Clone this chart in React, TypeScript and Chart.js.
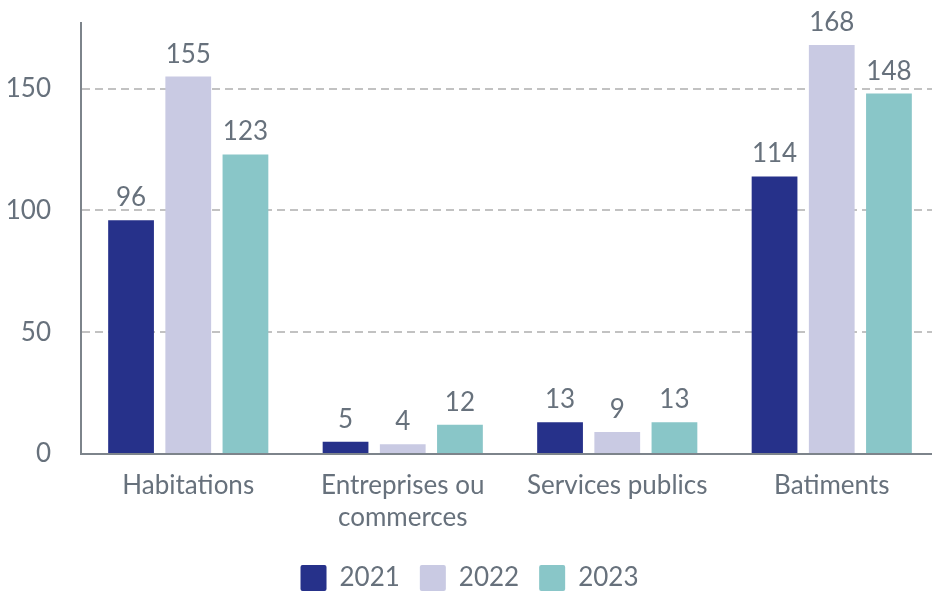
import React, { useEffect, useRef } from "react";
import { Chart, registerables } from "chart.js";

Chart.register(...registerables);

const categories: (string | string[])[] = [
  "Habitations",
  ["Entreprises ou", "commerces"],
  "Services publics",
  "Batiments",
];
const seriesNames = ["2021", "2022", "2023"];
const values2021 = [96, 5, 13, 114];
const values2022 = [155, 4, 9, 168];
const values2023 = [123, 12, 13, 148];
const yTicks = [0, 50, 100, 150];

const colors = ["#26318a", "#c9cae3", "#89c6c8"];
const textColor = "#67717c";
const FONT = "Lato";
const FS = 26;

const dataLabels = {
  id: "dataLabels",
  afterDatasetsDraw(chart: any) {
    const ctx = chart.ctx;
    ctx.save();
    ctx.font = `${FS}px ${FONT}`;
    ctx.fillStyle = textColor;
    ctx.textAlign = "center";
    ctx.textBaseline = "alphabetic";
    chart.data.datasets.forEach((ds: any, i: number) => {
      const meta = chart.getDatasetMeta(i);
      meta.data.forEach((el: any, j: number) => {
        ctx.fillText(String(ds.data[j]), el.x, el.y - 14);
      });
    });
    ctx.restore();
  },
};

export default function App() {
  const ref = useRef<HTMLCanvasElement>(null);
  useEffect(() => {
    document.body.style.margin = "0";
    document.body.style.overflow = "hidden";
    const chart = new Chart(ref.current!, {
      type: "bar",
      data: {
        labels: categories,
        datasets: [values2021, values2022, values2023].map((d, i) => ({
          label: seriesNames[i],
          data: d,
          backgroundColor: colors[i],
          borderWidth: 0,
          barPercentage: 0.8,
          categoryPercentage: 0.8,
        })),
      },
      options: {
        animation: false,
        responsive: false,
        layout: { padding: { top: 23, right: 0, left: 0, bottom: 0 } },
        plugins: {
          tooltip: { enabled: false },
          legend: {
            position: "bottom",
            labels: {
              boxWidth: 26,
              boxHeight: 26,
              padding: 20,
              color: textColor,
              font: { family: FONT, size: FS },
              useBorderRadius: true,
              borderRadius: 2,
            },
          },
        },
        scales: {
          x: {
            grid: { display: false, drawTicks: false },
            border: { display: true, color: "#7d848b", width: 2 },
            ticks: {
              color: textColor,
              font: { family: FONT, size: FS, lineHeight: 1.25 },
              padding: 15,
              maxRotation: 0,
              autoSkip: false,
            },
            afterFit: (s: any) => {
              s.height = 91;
            },
          },
          y: {
            min: 0,
            max: 177,
            afterBuildTicks: (s: any) => {
              s.ticks = yTicks.map((v) => ({ value: v }));
            },
            afterFit: (s: any) => {
              s.width = 81;
              s.paddingTop = 0;
              s.paddingBottom = 0;
            },
            grid: {
              drawTicks: false,
              color: (c: any) => (c.tick && c.tick.value === 0 ? "rgba(0,0,0,0)" : "#c2c2c2"),
              lineWidth: 2,
            },
            border: { display: true, color: "#7d848b", width: 2, dash: [8, 5] },
            ticks: {
              color: textColor,
              font: { family: FONT, size: FS },
              padding: 30,
            },
          },
        },
      },
      plugins: [dataLabels],
    });
    return () => chart.destroy();
  }, []);
  return (
    <div style={{ position: "absolute", left: 0, top: 0, width: 939, height: 592, overflow: "hidden" }}>
      <canvas ref={ref} width={939} height={601} />
    </div>
  );
}
